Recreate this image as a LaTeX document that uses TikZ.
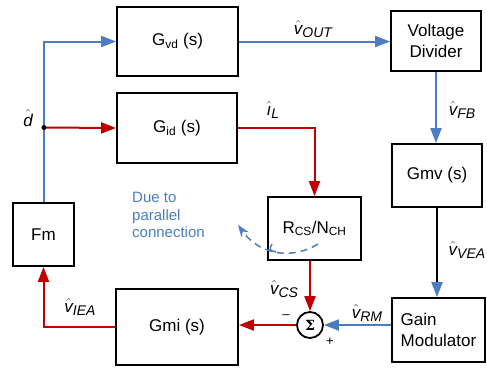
\documentclass[tikz,border=0pt]{standalone}
\usepackage{fontspec}
\setsansfont{Liberation Sans}
\newfontfamily\sigmafont{DejaVu Serif}
\usepackage{xcolor}
\definecolor{lineblue}{RGB}{74,126,192}
\definecolor{linered}{RGB}{192,0,0}
\usepackage{tikz}
\usetikzlibrary{arrows.meta, positioning, calc}

\newcommand{\hatit}[1]{$\hat{\mbox{\itshape #1}}$}
\newcommand{\vlbl}[1]{\hatit{v}\raisebox{-0.35ex}{\itshape\fontsize{14}{14}\selectfont #1}}

\begin{document}
\begin{tikzpicture}[
    x=1pt, y=-1pt,
    font=\sffamily\fontsize{17}{21}\selectfont,
    block/.style={draw, line width=1.8pt, inner sep=2pt},
    sumnode/.style={draw, circle, line width=1.8pt, minimum size=26pt, inner sep=0pt},
    arrowtip/.style={-{Triangle[length=15pt,width=11pt]}},
    bline/.style={lineblue, line width=2pt, arrowtip},
    rline/.style={linered, line width=2pt, arrowtip},
    small/.style={font=\sffamily\fontsize{13}{13}\selectfont}
  ]
  \useasboundingbox (0,0) rectangle (487,368);

  % Blocks
  \node[block, minimum width=121pt, minimum height=69pt] (gvd) at (177.5,41.5) {G\textsubscript{vd} (s)};
  \node[block, minimum width=120pt, minimum height=70pt] (gid) at (177,128) {G\textsubscript{id} (s)};
  \node[block, minimum width=90pt, minimum height=60pt, align=center] (vd) at (436,41) {Voltage\\Divider};
  \node[block, minimum width=90pt, minimum height=63pt] (gmv) at (437,175.5) {Gmv (s)};
  \node[block, minimum width=61pt, minimum height=63pt] (fm) at (43.5,234.5) {Fm};
  \node[block, minimum width=93pt, minimum height=63pt] (rcs) at (314.5,228.5) {R\textsubscript{CS}/N\textsubscript{CH}};
  \node[block, minimum width=122pt, minimum height=76pt] (gmi) at (177,327) {Gmi (s)};
  \node[block, minimum width=93pt, minimum height=64pt, align=left] (gm) at (438.5,330) {Gain\\Modulator};
  \node[sumnode] (sum) at (310,325) {\sigmafont\bfseries\fontsize{14}{14}\selectfont Σ};

  % Voltage path (blue)
  \draw[bline] (fm.north) |- (gvd.west);
  \draw[bline] (gvd.east) -- (gvd.east -| vd.west);
  \draw[bline] (vd.south) -- (vd.south |- gmv.north);
  \draw[line width=2pt, -{Triangle[length=15pt,width=11pt,color=lineblue]}]
    (gmv.south) -- (gmv.south |- gm.north);
  \draw[bline] (gm.west |- sum.east) -- (sum.east);

  % Current path (red)
  \coordinate (dhat) at (44,127.5);
  \draw[rline] (dhat) -- (gid.west);
  \fill (dhat) circle (2.5pt);
  \draw[rline] (gid.east) -| (rcs.north);
  \draw[rline] (sum.north |- rcs.south) -- (sum.north);
  \draw[rline] (sum.west) -- (sum.west -| gmi.east);
  \draw[rline] (gmi.west) -| (fm.south);

  % Signal labels
  \node (ldhat) at (28,118) {\hatit{d}};
  \node (lvout) at (313,29) {\vlbl{OUT}};
  \node (lvfb) at (462,110) {\vlbl{FB}};
  \node (lil) at (273,110) {$\hat{\mbox{\itshape\i}}$\raisebox{-0.35ex}{\itshape\fontsize{14}{14}\selectfont L}};
  \node (lvvea) at (467,250) {\vlbl{VEA}};
  \node (lvcs) at (284,289) {\vlbl{CS}};
  \node (lvrm) at (367,313) {\vlbl{RM}};
  \node (lviea) at (80,307) {\vlbl{IEA}};
  \node[small] (lminus) at (286,317) {--};
  \node[small] (lplus) at (330,342) {+};

  % Parallel connection note
  \node[lineblue, font=\sffamily\fontsize{15}{17.5}\selectfont, align=left, anchor=north west,
        inner sep=0pt] (note) at (132,192) {Due to\\parallel\\connection};
  \draw[lineblue, line width=1.5pt, dash pattern=on 7pt off 5pt, -{Stealth[length=12pt,width=9pt]}]
    (318,244) .. controls (296,258) and (262,258) .. (238,225);
  \draw[lineblue, line width=1.5pt] (272,244) .. controls (269,250) .. (276,252);
\end{tikzpicture}
\end{document}
